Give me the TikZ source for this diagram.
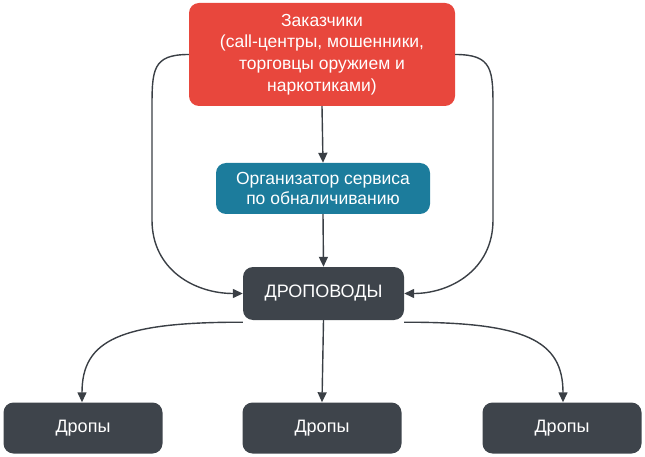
\documentclass[tikz,border=0pt]{standalone}
\usepackage{fontspec}
\setmainfont{Liberation Sans}
\usetikzlibrary{arrows.meta}
\definecolor{cred}{HTML}{E8473D}
\definecolor{cteal}{HTML}{1C7C9C}
\definecolor{cdark}{HTML}{3E444B}
\definecolor{cline}{HTML}{3A3F45}
\begin{document}
\begin{tikzpicture}[x=1pt,y=-1pt,
  box/.style={draw=none,rounded corners=10pt,text=white,inner sep=0pt,align=center},
  conn/.style={draw=cline,line width=1.4pt,-{Triangle[length=10pt,width=9pt]}}]
\useasboundingbox (0,0) rectangle (645,457);
\node[box,fill=cred,minimum width=266pt,minimum height=103pt,font=\fontsize{17.5}{21.7}\selectfont] (zak) at (322,54.5)
  {Заказчики\\(call-центры, мошенники,\\торговцы оружием и\\наркотиками)};
\node[box,fill=cteal,minimum width=214pt,minimum height=51pt,font=\fontsize{17.5}{19.5}\selectfont] (org) at (323,188.5)
  {Организатор сервиса\\по обналичиванию};
\node[box,fill=cdark,minimum width=161pt,minimum height=53pt,font=\fontsize{18}{20}\selectfont] (dpv) at (323.5,293.5) {ДРОПОВОДЫ};
\node[box,fill=cdark,minimum width=159pt,minimum height=51pt,font=\fontsize{18}{20}\selectfont] (d1) at (83,428) {Дропы};
\node[box,fill=cdark,minimum width=159pt,minimum height=51pt,font=\fontsize{18}{20}\selectfont] (d2) at (322,428) {Дропы};
\node[box,fill=cdark,minimum width=159pt,minimum height=51pt,font=\fontsize{18}{20}\selectfont] (d3) at (562,428) {Дропы};
\draw[conn] (zak.south) -- (org.north);
\draw[conn] (org.south) -- (dpv.north);
\draw[conn] (zak.west) .. controls (152,54.5) and (152,70) .. (152,110) -- (152,220)
  .. controls (152,270) and (195,293.5) .. (dpv.west);
\draw[conn] (zak.east) .. controls (493,54.5) and (493,70) .. (493,110) -- (493,220)
  .. controls (493,270) and (450,293.5) .. (dpv.east);
\draw[conn] (dpv.south) -- (d2.north);
\draw[conn] ([yshift=-2pt]dpv.south west) .. controls (120,322) and (82,340) .. (d1.north -| 82,0);
\draw[conn] ([yshift=-2pt]dpv.south east) .. controls (525,322) and (563,340) .. (d3.north -| 563,0);
\end{tikzpicture}
\end{document}
